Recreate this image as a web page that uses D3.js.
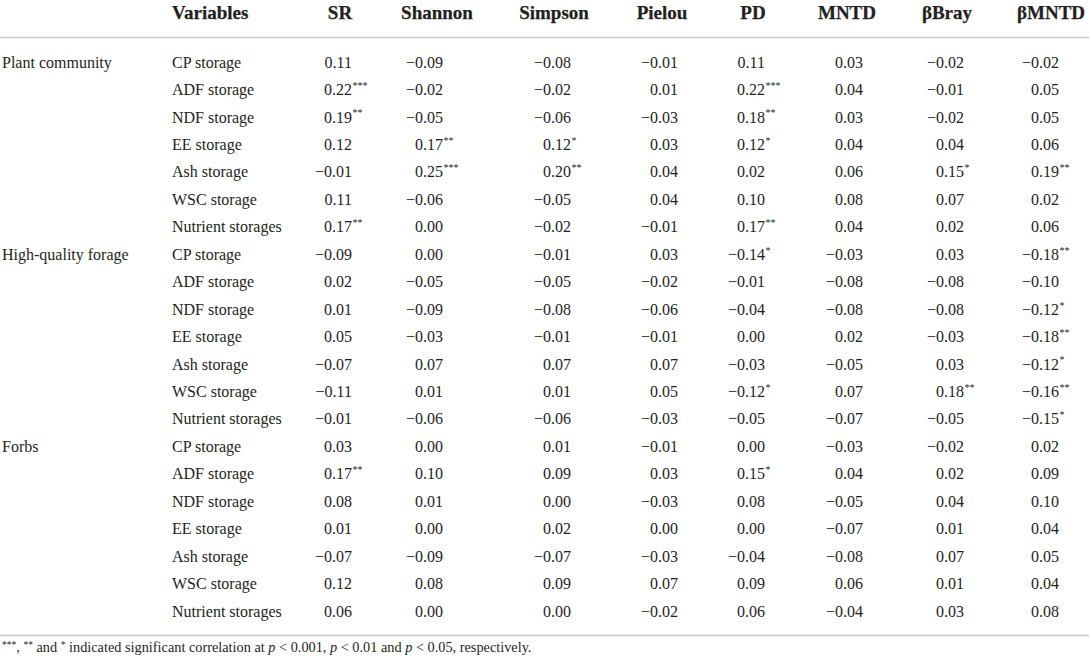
<!DOCTYPE html>
<html>
<head>
<meta charset="utf-8">
<script src="https://cdn.jsdelivr.net/npm/d3@7"></script>
<style>
  body { margin: 0; background: #fff; }
  svg text { font-family: "Liberation Serif", "Times New Roman", serif; fill: #231f20; }
</style>
</head>
<body>
<div id="table"></div>
<script>
// Table contents
const groups = ["Plant community", "High-quality forage", "Forbs"];
const variables = ["CP storage", "ADF storage", "NDF storage", "EE storage", "Ash storage", "WSC storage", "Nutrient storages"];
const metrics = ["SR", "Shannon", "Simpson", "Pielou", "PD", "MNTD", "βBray", "βMNTD"];

// correlation values, rows = groups x variables (21 rows)
const SR      = [0.11, 0.22, 0.19, 0.12, -0.01, 0.11, 0.17,  -0.09, 0.02, 0.01, 0.05, -0.07, -0.11, -0.01,  0.03, 0.17, 0.08, 0.01, -0.07, 0.12, 0.06];
const Shannon = [-0.09, -0.02, -0.05, 0.17, 0.25, -0.06, 0.00,  0.00, -0.05, -0.09, -0.03, 0.07, 0.01, -0.06,  0.00, 0.10, 0.01, 0.00, -0.09, 0.08, 0.00];
const Simpson = [-0.08, -0.02, -0.06, 0.12, 0.20, -0.05, -0.02,  -0.01, -0.05, -0.08, -0.01, 0.07, 0.01, -0.06,  0.01, 0.09, 0.00, 0.02, -0.07, 0.09, 0.00];
const Pielou  = [-0.01, 0.01, -0.03, 0.03, 0.04, 0.04, -0.01,  0.03, -0.02, -0.06, -0.01, 0.07, 0.05, -0.03,  -0.01, 0.03, -0.03, 0.00, -0.03, 0.07, -0.02];
const PD      = [0.11, 0.22, 0.18, 0.12, 0.02, 0.10, 0.17,  -0.14, -0.01, -0.04, 0.00, -0.03, -0.12, -0.05,  0.00, 0.15, 0.08, 0.00, -0.04, 0.09, 0.06];
const MNTD    = [0.03, 0.04, 0.03, 0.04, 0.06, 0.08, 0.04,  -0.03, -0.08, -0.08, 0.02, -0.05, 0.07, -0.07,  -0.03, 0.04, -0.05, -0.07, -0.08, 0.06, -0.04];
const bBray   = [-0.02, -0.01, -0.02, 0.04, 0.15, 0.07, 0.02,  0.03, -0.08, -0.08, -0.03, 0.03, 0.18, -0.05,  -0.02, 0.02, 0.04, 0.01, 0.07, 0.01, 0.03];
const bMNTD   = [-0.02, 0.05, 0.05, 0.06, 0.19, 0.02, 0.06,  -0.18, -0.10, -0.12, -0.18, -0.12, -0.16, -0.15,  0.02, 0.09, 0.10, 0.04, 0.05, 0.04, 0.08];

// significance stars (count of *)
const SR_sig      = [0, 3, 2, 0, 0, 0, 2,  0, 0, 0, 0, 0, 0, 0,  0, 2, 0, 0, 0, 0, 0];
const Shannon_sig = [0, 0, 0, 2, 3, 0, 0,  0, 0, 0, 0, 0, 0, 0,  0, 0, 0, 0, 0, 0, 0];
const Simpson_sig = [0, 0, 0, 1, 2, 0, 0,  0, 0, 0, 0, 0, 0, 0,  0, 0, 0, 0, 0, 0, 0];
const Pielou_sig  = [0, 0, 0, 0, 0, 0, 0,  0, 0, 0, 0, 0, 0, 0,  0, 0, 0, 0, 0, 0, 0];
const PD_sig      = [0, 3, 2, 1, 0, 0, 2,  1, 0, 0, 0, 0, 1, 0,  0, 1, 0, 0, 0, 0, 0];
const MNTD_sig    = [0, 0, 0, 0, 0, 0, 0,  0, 0, 0, 0, 0, 0, 0,  0, 0, 0, 0, 0, 0, 0];
const bBray_sig   = [0, 0, 0, 0, 1, 0, 0,  0, 0, 0, 0, 0, 2, 0,  0, 0, 0, 0, 0, 0, 0];
const bMNTD_sig   = [0, 0, 0, 0, 2, 0, 0,  2, 0, 1, 2, 1, 2, 1,  0, 0, 0, 0, 0, 0, 0];

const columns = [
  { vals: SR, sig: SR_sig }, { vals: Shannon, sig: Shannon_sig },
  { vals: Simpson, sig: Simpson_sig }, { vals: Pielou, sig: Pielou_sig },
  { vals: PD, sig: PD_sig }, { vals: MNTD, sig: MNTD_sig },
  { vals: bBray, sig: bBray_sig }, { vals: bMNTD, sig: bMNTD_sig },
];

const W = 1089, H = 665;
const svg = d3.select("#table").append("svg").attr("width", W).attr("height", H);

// column positions: header centre and right edge of the number
const headerX = d3.scaleOrdinal().domain(metrics).range([340, 437, 554, 662, 753, 847, 947, 1051]);
const numX = d3.scaleOrdinal().domain(metrics).range([352, 443, 571, 678, 765, 863, 964, 1059]);

const rowIdx = d3.range(groups.length * variables.length);
const y = d3.scalePoint().domain(rowIdx).range([62, 611]);
const fmt = d3.format(".2f");

// header
const head = svg.append("g");
const headText = (sel) => sel
  .style("font-family", "'Liberation Serif', serif")
  .style("font-weight", "700")
  .style("font-size", "19px")
  .attr("stroke", "#231f20").attr("stroke-width", 0.25);
head.append("text").attr("x", 172).attr("y", 12).attr("dy", "0.35em").text("Variables").call(headText);
head.selectAll(".h").data(metrics).enter().append("text")
  .attr("x", (d) => headerX(d)).attr("y", 12).attr("dy", "0.35em")
  .attr("text-anchor", "middle").text((d) => d).call(headText);

// rules
svg.selectAll(".rule").data([37.5, 635.5]).enter().append("line")
  .attr("x1", 0).attr("x2", W).attr("y1", (d) => d).attr("y2", (d) => d)
  .attr("stroke", "#c9c9c9").attr("stroke-width", 1.6);

// group labels and variable labels
const body = svg.append("g").attr("font-size", 16);
body.selectAll(".grp").data(groups).enter().append("text")
  .attr("x", 2).attr("y", (d, i) => y(i * variables.length)).attr("dy", "0.35em").text((d) => d);
body.selectAll(".var").data(rowIdx).enter().append("text")
  .attr("x", 172).attr("y", (d) => y(d)).attr("dy", "0.35em")
  .text((d) => variables[d % variables.length]);

// values
metrics.forEach((m, ci) => {
  const col = columns[ci];
  const g = body.append("g");
  g.selectAll("text.v").data(rowIdx).enter().append("text")
    .attr("x", numX(m)).attr("y", (d) => y(d)).attr("dy", "0.35em")
    .attr("text-anchor", "end").text((d) => fmt(col.vals[d]));
  g.selectAll("text.s").data(rowIdx.filter((d) => col.sig[d] > 0)).enter().append("text")
    .attr("x", numX(m) + 0.5).attr("y", (d) => y(d) - 4).attr("dy", "0.35em")
    .attr("font-size", 10).text((d) => "*".repeat(col.sig[d]));
});

// footnote
const foot = svg.append("text").attr("x", 2).attr("y", 652).attr("dy", "0.35em").attr("font-size", 14.3);
const parts = [
  ["***", "sup"], [", ", ""], ["**", "sup"], [" and ", ""], ["*", "sup"],
  [" indicated significant correlation at ", ""], ["p", "it"], [" < 0.001, ", ""],
  ["p", "it"], [" < 0.01 and ", ""], ["p", "it"], [" < 0.05, respectively.", ""],
];
parts.forEach(([t, k], i) => {
  const prev = i > 0 ? parts[i - 1][1] : "";
  const ts = foot.append("tspan").text(t);
  if (k === "sup") ts.attr("font-size", 9.5).attr("dy", prev === "sup" ? 0 : -4);
  else if (prev === "sup") ts.attr("dy", 4);
  if (k === "it") ts.attr("font-style", "italic");
});
</script>
</body>
</html>
